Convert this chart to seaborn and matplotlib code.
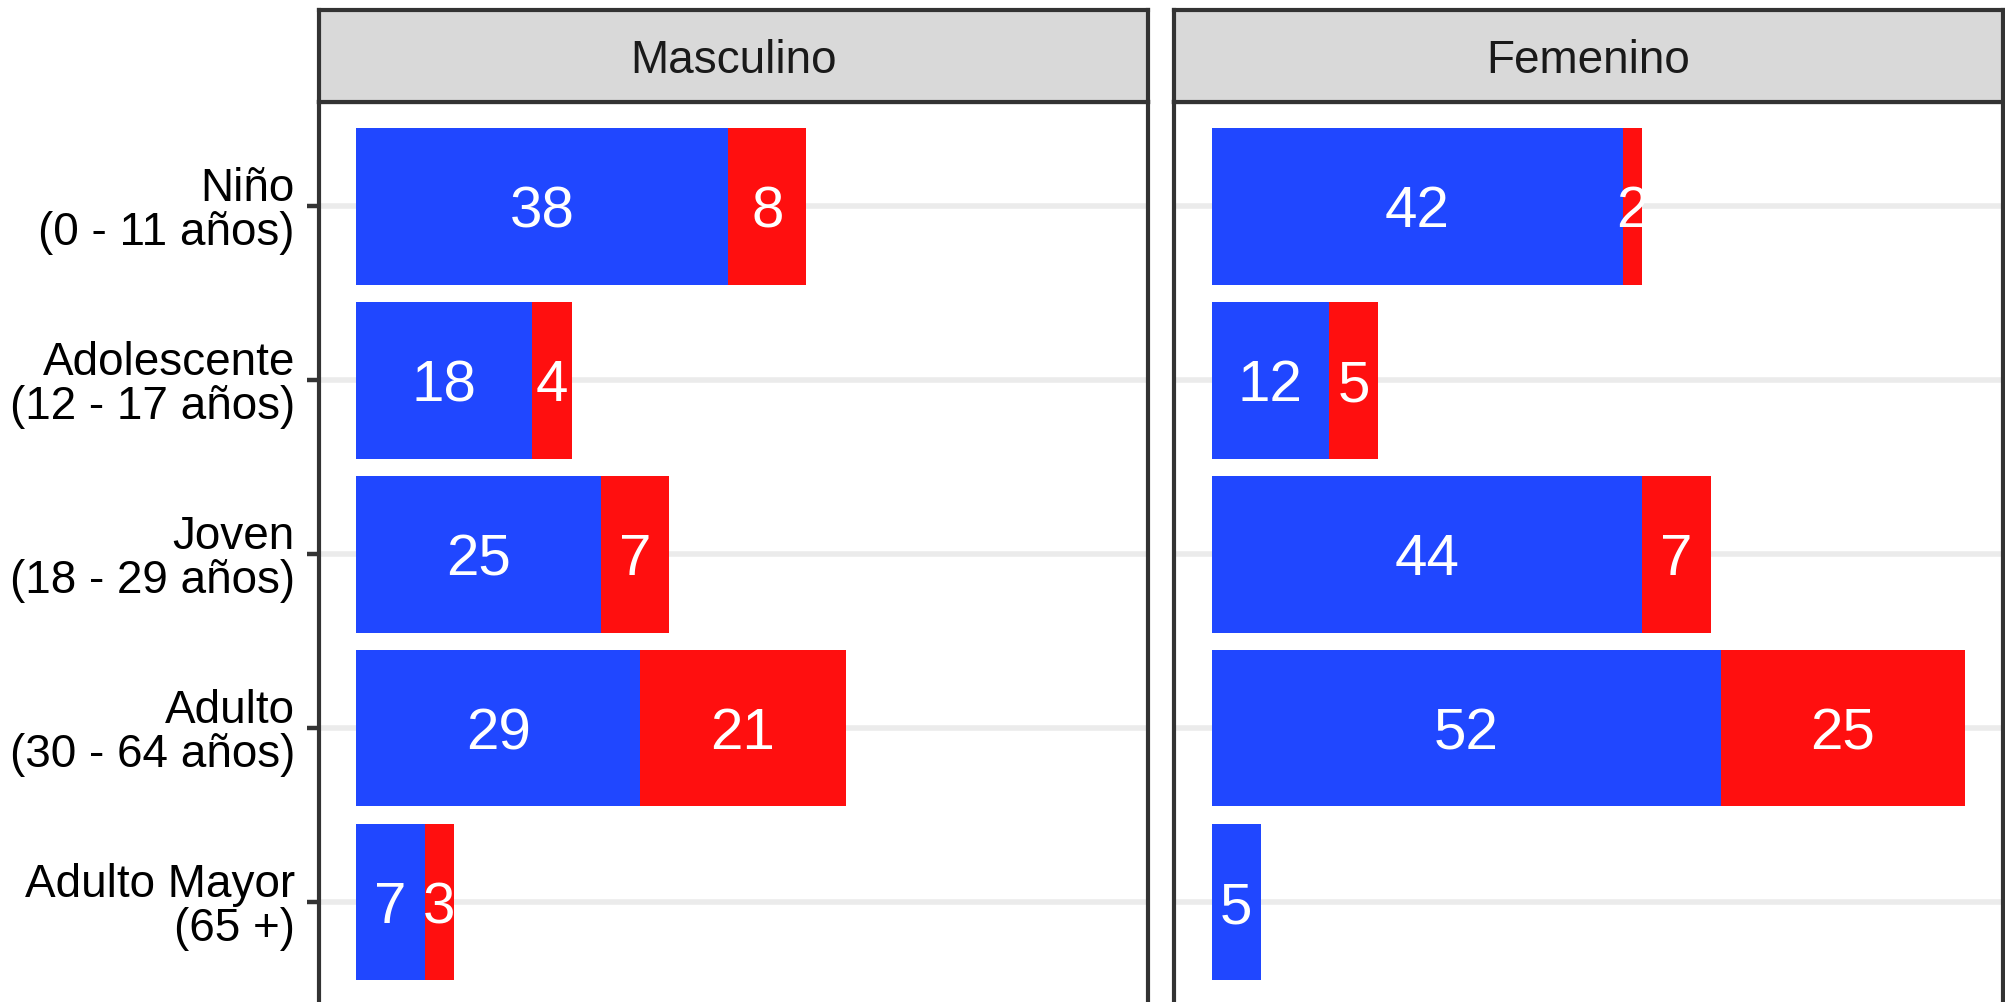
import seaborn as sns
import matplotlib.pyplot as plt
import pandas as pd

# datos
categorias = ["Niño\n(0 - 11 años)", "Adolescente\n(12 - 17 años)", "Joven\n(18 - 29 años)",
              "Adulto\n(30 - 64 años)", "Adulto Mayor\n(65 +)"]
paneles = ["Masculino", "Femenino"]
masc_azul = [38, 18, 25, 29, 7]
masc_rojo = [8, 4, 7, 21, 3]
fem_azul = [42, 12, 44, 52, 5]
fem_rojo = [2, 5, 7, 25, 0]

azul = "#2047FF"
rojo = "#FF0F0F"
borde = "#333333"

sns.set_theme(style="white")
plt.rcParams['font.family'] = ['Liberation Sans', 'DejaVu Sans']

df = pd.DataFrame({
    "grupo": categorias * 2,
    "sexo": [paneles[0]] * 5 + [paneles[1]] * 5,
    "azul": masc_azul + fem_azul,
    "rojo": masc_rojo + fem_rojo,
})
df["total"] = df["azul"] + df["rojo"]

W, H = 2006, 1002
fig = plt.figure(figsize=(W / 200, H / 200), dpi=200)

lefts = [318.5, 1174]
pw = 829
top_px, strip_top = 102, 10
bottom_px = 1006.5
xmax = df["total"].max()
pad = xmax * 0.05

for i, sexo in enumerate(paneles):
    d = df[df["sexo"] == sexo]
    ax = fig.add_axes([lefts[i] / W, 1 - bottom_px / H, pw / W, (bottom_px - top_px) / H])
    # lineas guia horizontales
    for k in range(len(categorias)):
        ax.axhline(k, color="#EBEBEB", lw=2.0, zorder=0)
    sns.barplot(data=d, y="grupo", x="total", color=rojo, width=0.9, saturation=1,
                orient="h", ax=ax, zorder=2, edgecolor="none", linewidth=0)
    sns.barplot(data=d, y="grupo", x="azul", color=azul, width=0.9, saturation=1,
                orient="h", ax=ax, zorder=3, edgecolor="none", linewidth=0)
    for k, (a, r) in enumerate(zip(d["azul"], d["rojo"])):
        ax.text(a / 2, k, str(a), color="white", fontsize=21, ha="center",
                va="center_baseline", zorder=4)
        if r > 0:
            ax.text(a + r / 2, k, str(r), color="white", fontsize=21, ha="center",
                    va="center_baseline", zorder=4)
    ax.set_xlim(-pad, xmax + pad)
    ax.set_ylim(len(categorias) - 0.4, -0.6)
    ax.set_xlabel("")
    ax.set_ylabel("")
    ax.set_xticks([])
    for s in ax.spines.values():
        s.set_color(borde)
        s.set_linewidth(1.5)
    if i == 0:
        ax.tick_params(axis="y", length=4.5, width=1.6, color=borde, labelsize=16.5,
                       labelcolor="black", pad=4, left=True)
        for t in ax.get_yticklabels():
            t.set_linespacing(1.0)
    else:
        ax.set_yticks([])

    sax = fig.add_axes([lefts[i] / W, 1 - top_px / H, pw / W, (top_px - strip_top) / H])
    sax.set_facecolor("#D9D9D9")
    sax.set_xticks([])
    sax.set_yticks([])
    for s in sax.spines.values():
        s.set_color(borde)
        s.set_linewidth(1.5)
    sax.text(0.5, 0.5, sexo, fontsize=16.5, color="#1A1A1A", ha="center",
             va="center_baseline", transform=sax.transAxes)

fig.savefig("out.png", dpi=200, facecolor="white")
